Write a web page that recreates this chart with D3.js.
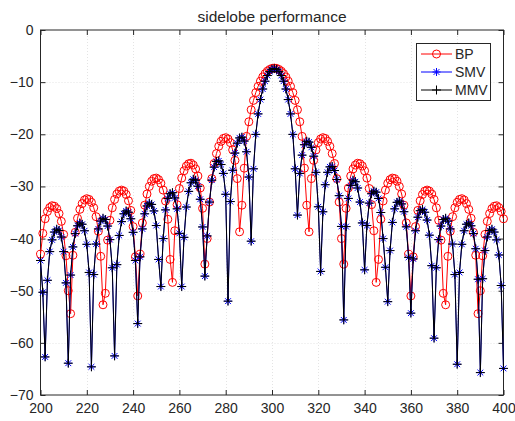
<!DOCTYPE html>
<html lang="en">
<head>
    <meta charset="UTF-8">
    <title>sidelobe performance</title>
    <script src="https://d3js.org/d3.v7.min.js"></script>
    <style>
        body { margin: 0; background: #fff; font-family: "Liberation Sans", Arial, sans-serif; }
        .axis text { fill: #262626; font-size: 14px; font-family: "Liberation Sans", Arial, sans-serif; }
        .axis line { stroke: #262626; }
    </style>
</head>
<body>
    <div id="chart"></div>
    <script>
        // Sample positions (one per unit) and tick labels
        const xValues = d3.range(200, 401);
        const xTicks = [200, 220, 240, 260, 280, 300, 320, 340, 360, 380, 400];
        const yTicks = [0, -10, -20, -30, -40, -50, -60, -70];
        const seriesNames = ["BP", "SMV", "MMV"];

        // BP response, x = 200 .. 400
        const bpValues = [
            -43.0, -39.0, -36.2, -34.8, -34.05, -33.7, -33.8, -34.25, -35.2, -36.7,
            -39.2, -43.3, -50.0, -54.4, -43.2, -38.8, -36.1, -34.4, -33.3, -32.6,
            -32.35, -32.5, -33.05, -34.1, -35.8, -38.6, -43.4, -52.7, -50.5, -40.3,
            -36.5, -34.1, -32.5, -31.45, -30.9, -30.7, -30.9, -31.55, -32.75, -34.6,
            -37.7, -43.5, -51.0, -43.0, -37.0, -33.6, -31.45, -30.0, -29.0, -28.5,
            -28.4, -28.7, -29.4, -30.7, -32.8, -36.3, -44.0, -48.4, -38.5, -33.5,
            -30.4, -28.4, -27.0, -26.1, -25.65, -25.55, -25.9, -26.65, -28.0, -30.3,
            -34.2, -44.9, -40.0, -33.0, -28.5, -25.6, -23.7, -22.3, -21.35, -20.8,
            -20.65, -20.9, -21.6, -23.0, -25.0, -28.5, -38.7, -33.6, -26.5, -20.4,
            -17.6, -15.3, -13.5, -12.0, -10.8, -9.81, -9.01, -8.38, -7.9, -7.57,
            -7.37, -7.3, -7.37, -7.57, -7.9, -8.38, -9.01, -9.81, -10.8, -12.0,
            -13.5, -15.3, -17.6, -20.4, -26.5, -33.6, -38.7, -28.5, -25.0, -23.0,
            -21.6, -20.9, -20.65, -20.8, -21.35, -22.3, -23.7, -25.6, -28.5, -33.0,
            -40.0, -44.9, -34.2, -30.3, -28.0, -26.65, -25.9, -25.55, -25.65, -26.1,
            -27.0, -28.4, -30.4, -33.5, -38.5, -48.4, -44.0, -36.3, -32.8, -30.7,
            -29.4, -28.7, -28.4, -28.5, -29.0, -30.0, -31.45, -33.6, -37.0, -43.0,
            -51.0, -43.5, -37.7, -34.6, -32.75, -31.55, -30.9, -30.7, -30.9, -31.45,
            -32.5, -34.1, -36.5, -40.3, -50.5, -52.7, -43.4, -38.6, -35.8, -34.1,
            -33.05, -32.5, -32.35, -32.6, -33.3, -34.4, -36.1, -38.8, -43.2, -54.4,
            -50.0, -43.3, -39.2, -36.7, -35.2, -34.25, -33.8, -33.7, -34.05, -34.8,
            -36.2
        ];

        // SMV response, x = 200 .. 400
        const smvValues = [
            -44.2, -50.3, -62.7, -48.0, -42.5, -40.25, -38.75, -38.2, -38.45, -39.7,
            -42.5, -48.5, -63.9, -47.0, -41.6, -39.05, -37.55, -37.0, -37.25, -38.5,
            -41.1, -46.5, -64.6, -46.9, -41.05, -38.15, -36.65, -36.1, -36.35, -37.6,
            -40.2, -45.6, -62.5, -45.0, -39.4, -36.75, -35.25, -34.7, -34.95, -36.2,
            -38.8, -44.2, -56.3, -43.5, -38.15, -35.25, -33.75, -33.2, -33.45, -34.7,
            -37.5, -44.0, -49.2, -40.0, -34.5, -32.3, -31.4, -31.2, -32.2, -34.3,
            -39.0, -49.2, -39.76, -33.95, -30.95, -29.3, -28.63, -28.81, -29.96, -32.46,
            -37.77, -47.2, -39.5, -33.0, -28.8, -26.3, -25.2, -25.1, -25.8, -27.5,
            -31.5, -52.0, -32.9, -26.9, -23.6, -21.7, -20.7, -20.54, -21.3, -23.35,
            -28.2, -40.5, -26.62, -20.02, -16.09, -13.34, -11.32, -9.82, -8.73, -7.98,
            -7.54, -7.4, -7.54, -7.98, -8.73, -9.82, -11.32, -13.34, -16.09, -20.02,
            -26.62, -35.5, -27.5, -24.0, -22.0, -21.34, -21.5, -22.5, -24.2, -27.3,
            -33.9, -46.3, -34.86, -29.67, -27.29, -26.25, -26.17, -26.95, -28.68, -31.77,
            -37.67, -55.6, -37.7, -32.3, -29.8, -28.8, -29.1, -30.3, -33.0, -37.0,
            -46.0, -37.5, -33.2, -31.4, -30.9, -31.1, -32.3, -35.0, -40.0, -45.5,
            -52.1, -42.3, -36.9, -34.3, -33.05, -32.8, -33.35, -34.85, -37.75, -43.6,
            -54.3, -43.9, -38.5, -35.9, -34.65, -34.4, -34.95, -36.45, -39.35, -45.2,
            -59.1, -45.6, -40.2, -37.6, -36.35, -36.1, -36.65, -38.15, -41.05, -46.9,
            -64.1, -46.5, -41.1, -38.5, -37.25, -37.0, -37.55, -39.05, -41.95, -47.8,
            -65.7, -47.7, -42.3, -39.7, -38.45, -38.2, -38.75, -40.25, -43.15, -49.0,
            -64.9
        ];

        // MMV response, x = 200 .. 400 (sits on top of SMV)
        const mmvValues = [
            -44.2, -50.3, -62.7, -48.0, -42.5, -40.25, -38.75, -38.2, -38.45, -39.7,
            -42.5, -48.5, -63.9, -47.0, -41.6, -39.05, -37.55, -37.0, -37.25, -38.5,
            -41.1, -46.5, -64.6, -46.9, -41.05, -38.15, -36.65, -36.1, -36.35, -37.6,
            -40.2, -45.6, -62.5, -45.0, -39.4, -36.75, -35.25, -34.7, -34.95, -36.2,
            -38.8, -44.2, -56.3, -43.5, -38.15, -35.25, -33.75, -33.2, -33.45, -34.7,
            -37.5, -44.0, -49.2, -40.0, -34.5, -32.3, -31.4, -31.2, -32.2, -34.3,
            -39.0, -49.2, -39.76, -33.95, -30.95, -29.3, -28.63, -28.81, -29.96, -32.46,
            -37.77, -47.2, -39.5, -33.0, -28.8, -26.3, -25.2, -25.1, -25.8, -27.5,
            -31.5, -52.0, -32.9, -26.9, -23.6, -21.7, -20.7, -20.54, -21.3, -23.35,
            -28.2, -40.5, -26.62, -20.02, -16.09, -13.34, -11.32, -9.82, -8.73, -7.98,
            -7.54, -7.4, -7.54, -7.98, -8.73, -9.82, -11.32, -13.34, -16.09, -20.02,
            -26.62, -35.5, -27.5, -24.0, -22.0, -21.34, -21.5, -22.5, -24.2, -27.3,
            -33.9, -46.3, -34.86, -29.67, -27.29, -26.25, -26.17, -26.95, -28.68, -31.77,
            -37.67, -55.6, -37.7, -32.3, -29.8, -28.8, -29.1, -30.3, -33.0, -37.0,
            -46.0, -37.5, -33.2, -31.4, -30.9, -31.1, -32.3, -35.0, -40.0, -45.5,
            -52.1, -42.3, -36.9, -34.3, -33.05, -32.8, -33.35, -34.85, -37.75, -43.6,
            -54.3, -43.9, -38.5, -35.9, -34.65, -34.4, -34.95, -36.45, -39.35, -45.2,
            -59.1, -45.6, -40.2, -37.6, -36.35, -36.1, -36.65, -38.15, -41.05, -46.9,
            -64.1, -46.5, -41.1, -38.5, -37.25, -37.0, -37.55, -39.05, -41.95, -47.8,
            -65.7, -47.7, -42.3, -39.7, -38.45, -38.2, -38.75, -40.25, -43.15, -49.0,
            -64.9
        ];

        const width = 515, height = 421;
        const margin = {top: 30, right: 11.5, bottom: 26, left: 40.5};

        const svg = d3.select("#chart")
            .append("svg")
            .attr("width", width)
            .attr("height", height);

        const x = d3.scaleLinear().domain([200, 400]).range([margin.left, width - margin.right]);
        const y = d3.scaleLinear().domain([-70, 0]).range([height - margin.bottom, margin.top]);

        // dotted grid
        const grid = svg.append("g")
            .attr("stroke", "#e4e4e4")
            .attr("stroke-width", 1)
            .attr("stroke-dasharray", "1,2");
        grid.selectAll(".gx").data(xTicks.slice(1, -1)).enter().append("line")
            .attr("x1", d => Math.round(x(d)) + 0.5).attr("x2", d => Math.round(x(d)) + 0.5)
            .attr("y1", y(0)).attr("y2", y(-70));
        grid.selectAll(".gy").data(yTicks.slice(1, -1)).enter().append("line")
            .attr("x1", x(200)).attr("x2", x(400))
            .attr("y1", d => Math.round(y(d)) + 0.5).attr("y2", d => Math.round(y(d)) + 0.5);

        // axes, MATLAB style: ticks pointing inwards on all four sides
        svg.append("g")
            .attr("class", "axis")
            .attr("transform", `translate(0,${y(-70)})`)
            .call(d3.axisBottom(x).tickValues(xTicks).tickSizeInner(-5).tickSizeOuter(0).tickPadding(8))
            .call(g => g.select(".domain").remove());
        svg.append("g")
            .attr("class", "axis")
            .attr("transform", `translate(0,${y(0)})`)
            .call(d3.axisTop(x).tickValues(xTicks).tickSizeInner(-5).tickSizeOuter(0).tickFormat(""))
            .call(g => g.select(".domain").remove());
        svg.append("g")
            .attr("class", "axis")
            .attr("transform", `translate(${x(200)},0)`)
            .call(d3.axisLeft(y).tickValues(yTicks).tickSizeInner(-5).tickSizeOuter(0).tickPadding(7))
            .call(g => g.select(".domain").remove());
        svg.append("g")
            .attr("class", "axis")
            .attr("transform", `translate(${x(400)},0)`)
            .call(d3.axisRight(y).tickValues(yTicks).tickSizeInner(-5).tickSizeOuter(0).tickFormat(""))
            .call(g => g.select(".domain").remove());

        svg.append("rect")
            .attr("x", x(200)).attr("y", y(0))
            .attr("width", x(400) - x(200)).attr("height", y(-70) - y(0))
            .attr("fill", "none").attr("stroke", "#262626").attr("stroke-width", 1);

        // series
        const starPath = "M-4,0H4M0,-4V4M-2.9,-2.9L2.9,2.9M-2.9,2.9L2.9,-2.9";
        const plusPath = "M-4.5,0H4.5M0,-4.5V4.5";
        const series = [
            {name: seriesNames[0], values: bpValues, color: "#ff0000", marker: "circle"},
            {name: seriesNames[1], values: smvValues, color: "#0000ff", marker: starPath},
            {name: seriesNames[2], values: mmvValues, color: "#000000", marker: plusPath}
        ];

        const line = d3.line()
            .x((d, i) => x(xValues[i]))
            .y(d => y(d));

        series.forEach(s => {
            const g = svg.append("g");
            g.append("path")
                .attr("d", line(s.values))
                .attr("fill", "none")
                .attr("stroke", s.color)
                .attr("stroke-width", 1);
            const pts = g.selectAll(".pt")
                .data(s.values)
                .enter();
            if (s.marker === "circle") {
                pts.append("circle")
                    .attr("cx", (d, i) => x(xValues[i]))
                    .attr("cy", d => y(d))
                    .attr("r", 4)
                    .attr("fill", "none")
                    .attr("stroke", s.color)
                    .attr("stroke-width", 1);
            } else {
                pts.append("path")
                    .attr("d", s.marker)
                    .attr("transform", (d, i) => `translate(${x(xValues[i])},${y(d)})`)
                    .attr("fill", "none")
                    .attr("stroke", s.color)
                    .attr("stroke-width", 1);
            }
        });

        // title
        svg.append("text")
            .attr("x", (x(200) + x(400)) / 2)
            .attr("y", 22)
            .attr("text-anchor", "middle")
            .attr("fill", "#262626")
            .style("font-size", "15.5px")
            .text("sidelobe performance");

        // legend
        const legend = svg.append("g").attr("transform", "translate(416,43)");
        legend.append("rect")
            .attr("x", 0.5).attr("y", 0.5)
            .attr("width", 74).attr("height", 57)
            .attr("fill", "#fff")
            .attr("stroke", "#262626")
            .attr("stroke-width", 1);
        series.forEach((s, i) => {
            const ly = 11 + i * 18;
            const row = legend.append("g").attr("transform", `translate(0,${ly})`);
            row.append("line")
                .attr("x1", 5).attr("x2", 36)
                .attr("stroke", s.color).attr("stroke-width", 1);
            if (s.marker === "circle") {
                row.append("circle").attr("cx", 20.5).attr("r", 4)
                    .attr("fill", "none").attr("stroke", s.color);
            } else {
                row.append("path").attr("d", s.marker)
                    .attr("transform", "translate(20.5,0)")
                    .attr("fill", "none").attr("stroke", s.color);
            }
            row.append("text")
                .attr("x", 39).attr("dy", "0.35em")
                .attr("fill", "#262626")
                .style("font-size", "14px")
                .text(s.name);
        });
    </script>
</body>
</html>
